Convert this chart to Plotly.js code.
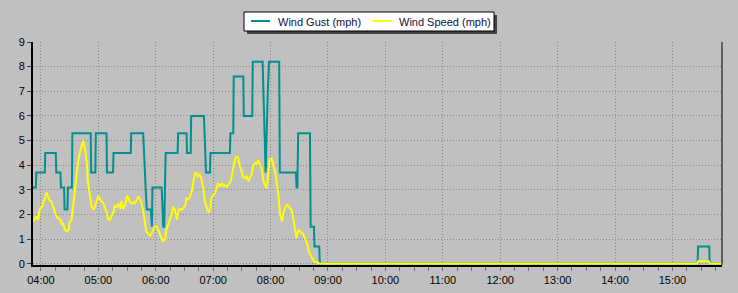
<!DOCTYPE html>
<html>
<head>
<meta charset="utf-8">
<script src="https://cdn.plot.ly/plotly-3.0.1.min.js"></script>
<style>
  html, body { margin: 0; padding: 0; background: #c0c0c0; }
  #chart { width: 738px; height: 293px; }
</style>
</head>
<body>
<div id="chart"></div>
<script>
const DAY = '2024-01-01 ';

const gustTimes = ['03:51:40','03:54:40','03:55:10','04:04:00','04:04:30','04:15:30','04:16:00','04:20:20','04:20:50','04:24:10',
  '04:24:40','04:27:40','04:28:10','04:32:20','04:32:50','04:52:00','04:52:30','04:56:50','04:57:20','05:08:30',
  '05:09:00','05:15:20','05:15:50','05:33:50','05:34:20','05:46:50','05:48:40','05:50:30','05:54:50','05:55:20',
  '05:56:00','05:56:30','06:06:10','06:07:50','06:08:50','06:10:20','06:22:50','06:23:20','06:32:10','06:32:40',
  '06:36:30','06:37:00','06:50:20','06:51:00','06:52:30','06:56:40','06:57:10','07:17:30','07:18:00','07:21:00',
  '07:21:30','07:31:30','07:32:00','07:40:50','07:41:20','07:51:40','07:54:50','07:57:00','07:58:20','08:09:00',
  '08:09:40','08:26:30','08:27:10','08:28:00','08:28:50','08:41:10','08:41:50','08:45:20','08:45:50','08:50:50',
  '08:51:30','15:26:20','15:26:50','15:38:30','15:39:00','15:51:50'];
const gustValues = [3.1,3.1,3.7,3.7,4.5,4.5,3.7,3.7,3.1,3.1,
  2.2,2.2,3.1,3.1,5.3,5.3,3.7,3.7,5.3,5.3,
  3.7,3.7,4.5,4.5,5.3,5.3,3.7,2.2,2.2,1.5,
  1.5,3.1,3.1,1.5,1.5,4.5,4.5,5.3,5.3,4.5,
  4.5,6.0,6.0,5.3,3.7,3.7,4.5,4.5,5.3,5.3,
  7.6,7.6,6.0,6.0,8.2,8.2,3.7,6.9,8.2,8.2,
  3.7,3.7,3.1,3.1,5.3,5.3,1.5,1.5,0.7,0.7,
  0,0,0.7,0.7,0,0];

const speedTimes = ['03:52','03:54','03:55','03:57','03:59','04:01','04:03','04:06','04:08','04:09',
  '04:11','04:13','04:15','04:16','04:18','04:20','04:22','04:23','04:25','04:27',
  '04:29','04:30','04:32','04:34','04:36','04:37','04:39','04:41','04:42','04:44',
  '04:46','04:48','04:49','04:51','04:53','04:55','04:56','04:58','05:00','05:02',
  '05:03','05:05','05:07','05:09','05:10','05:12','05:14','05:16','05:17','05:19',
  '05:21','05:23','05:24','05:26','05:28','05:30','05:31','05:33','05:35','05:37',
  '05:38','05:40','05:42','05:43','05:45','05:47','05:49','05:50','05:52','05:54',
  '05:56','05:57','05:59','06:01','06:03','06:04','06:06','06:08','06:10','06:11',
  '06:13','06:15','06:17','06:18','06:20','06:22','06:24','06:25','06:27','06:29',
  '06:31','06:32','06:34','06:36','06:38','06:39','06:41','06:43','06:44','06:46',
  '06:48','06:50','06:51','06:53','06:55','06:57','06:58','07:00','07:02','07:04',
  '07:05','07:07','07:09','07:11','07:12','07:14','07:16','07:18','07:19','07:21',
  '07:23','07:25','07:26','07:28','07:30','07:31','07:33','07:35','07:37','07:38',
  '07:40','07:42','07:44','07:45','07:47','07:49','07:51','07:52','07:54','07:56',
  '07:58','07:59','08:01','08:03','08:05','08:06','08:08','08:10','08:12','08:13',
  '08:15','08:17','08:19','08:20','08:22','08:24','08:25','08:27','08:29','08:31',
  '08:32','08:34','08:38','08:40','08:43','08:46','08:50','08:52','15:26','15:27',
  '15:38','15:39','15:51:50'];
const speedValues = [1.71,1.85,1.92,1.78,2.26,2.30,2.53,2.89,2.66,2.57,
  2.53,2.32,2.08,1.92,1.85,1.81,1.58,1.65,1.38,1.31,
  1.38,1.71,1.78,2.46,3.13,3.68,4.22,4.55,4.75,5.00,
  4.62,4.08,3.34,2.73,2.32,2.19,2.26,2.53,2.76,2.59,
  2.53,2.46,2.26,2.06,1.81,1.78,1.95,2.12,2.35,2.30,
  2.46,2.22,2.53,2.22,2.40,2.76,2.70,2.49,2.43,2.53,
  2.43,2.59,2.73,2.66,2.46,2.12,1.65,1.31,1.22,1.13,
  1.27,1.38,1.51,1.51,1.35,1.24,1.04,0.90,1.04,1.38,
  1.58,1.78,2.06,2.32,2.19,1.78,2.19,2.22,2.19,2.26,
  2.39,2.66,2.62,2.73,3.00,3.27,3.68,3.68,3.54,3.61,
  3.40,3.00,2.59,2.32,2.06,2.26,2.66,2.80,2.87,3.13,
  3.27,3.13,3.27,3.13,3.20,3.13,3.20,3.34,3.47,3.88,
  4.28,4.35,4.32,3.94,3.74,3.54,3.47,3.54,3.34,3.47,
  3.61,4.01,4.08,4.01,4.22,4.01,3.81,3.47,3.20,3.07,
  3.68,4.22,4.28,4.01,3.68,3.40,2.87,1.99,1.71,1.99,
  2.26,2.39,2.35,2.26,2.19,1.78,1.58,1.04,1.38,1.31,
  1.31,1.20,0.84,0.50,0.25,0.09,0.03,0,0,0.1,
  0.1,0,0];

const xTickStart = '04:00';
const xRange = ['03:51:40', '15:51:50'];
const yTickValues = [0,1,2,3,4,5,6,7,8,9];
const seriesNames = ['Wind Gust (mph)', 'Wind Speed (mph)'];
const seriesColors = ['#009090', '#ffff00'];

const toDate = t => DAY + t;

const traces = [
  {
    x: gustTimes.map(toDate), y: gustValues, name: seriesNames[0],
    type: 'scatter', mode: 'lines',
    line: { color: seriesColors[0], width: 2 }
  },
  {
    x: speedTimes.map(toDate), y: speedValues, name: seriesNames[1],
    type: 'scatter', mode: 'lines',
    line: { color: seriesColors[1], width: 2 }
  }
];

// legend drawn as a box (pixel positions converted to paper units)
const L = 33, T = 42, PW = 689, PH = 223;
const px = x => (x - L) / PW;
const py = y => (T + PH - y) / PH;

const layout = {
  width: 738, height: 293,
  paper_bgcolor: '#c0c0c0', plot_bgcolor: '#c0c0c0',
  margin: { l: 33, r: 16, t: 42, b: 28 },
  font: { family: 'Arial, Liberation Sans, sans-serif', size: 11, color: '#000000' },
  showlegend: false,
  xaxis: {
    type: 'date', range: xRange.map(toDate),
    tick0: toDate(xTickStart), dtick: 3600000, tickformat: '%H:%M',
    showgrid: true, gridcolor: '#888888', griddash: '1px,2px', gridwidth: 1,
    showline: true, linecolor: '#000000', linewidth: 2,
    ticks: 'outside', ticklen: 4, tickcolor: '#707070', tickwidth: 1,
    minor: { dtick: 900000, ticks: 'outside', ticklen: 4, tickcolor: '#707070', showgrid: false },
    zeroline: false, layer: 'below traces', fixedrange: true
  },
  yaxis: {
    range: [-0.05, 9], tickvals: yTickValues,
    showgrid: true, gridcolor: '#888888', griddash: '1px,2px', gridwidth: 1,
    showline: true, linecolor: '#000000', linewidth: 2,
    ticks: 'outside', ticklen: 4, tickcolor: '#404040',
    zeroline: false, layer: 'below traces', fixedrange: true
  },
  shapes: [
    { type: 'line', xref: 'paper', yref: 'paper', x0: 1, x1: 1, y0: 0, y1: 1,
      line: { color: '#000000', width: 1 } },
    { type: 'rect', xref: 'paper', yref: 'paper', x0: px(247), x1: px(497), y0: py(34), y1: py(15),
      fillcolor: '#404040', line: { width: 0 } },
    { type: 'rect', xref: 'paper', yref: 'paper', x0: px(244), x1: px(494), y0: py(31), y1: py(12),
      fillcolor: '#ffffff', line: { color: '#000000', width: 1 } },
    { type: 'line', xref: 'paper', yref: 'paper', x0: px(251), x1: px(270), y0: py(21), y1: py(21),
      line: { color: seriesColors[0], width: 2 } },
    { type: 'line', xref: 'paper', yref: 'paper', x0: px(372), x1: px(392), y0: py(21), y1: py(21),
      line: { color: seriesColors[1], width: 2 } }
  ],
  annotations: [
    { xref: 'paper', yref: 'paper', x: px(276), y: py(21.5), xanchor: 'left', yanchor: 'middle',
      text: seriesNames[0], showarrow: false, font: { size: 11, color: '#101040' } },
    { xref: 'paper', yref: 'paper', x: px(397), y: py(21.5), xanchor: 'left', yanchor: 'middle',
      text: seriesNames[1], showarrow: false, font: { size: 11, color: '#101040' } }
  ]
};

Plotly.newPlot('chart', traces, layout, { displayModeBar: false, staticPlot: true });
</script>
</body>
</html>
